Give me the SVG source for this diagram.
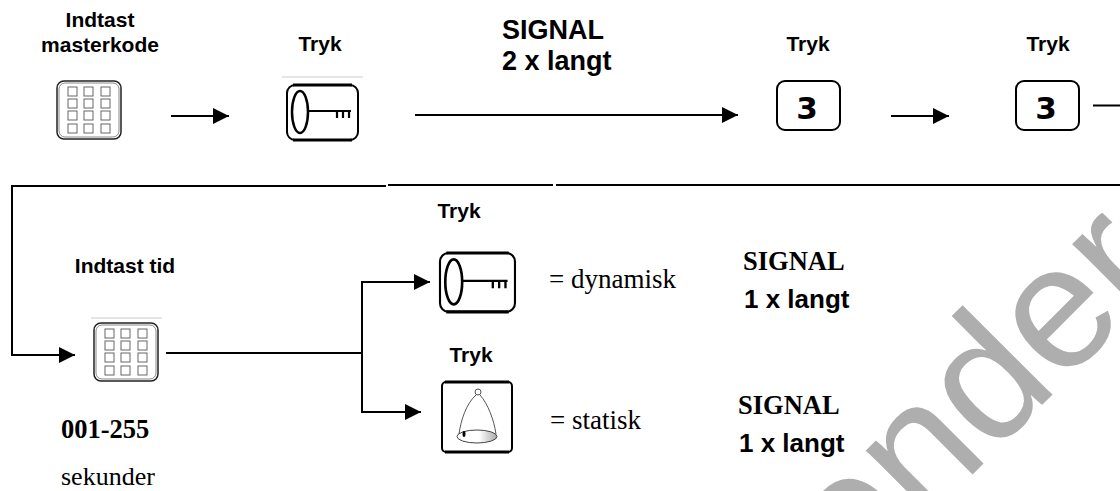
<svg xmlns="http://www.w3.org/2000/svg" width="1120" height="491" viewBox="0 0 1120 491">
<style>
.a{font-family:"Liberation Sans",Arial,sans-serif;font-weight:700;fill:#000}
.s{font-size:21px}.b{font-size:27px}.m{font-size:26px}
.t{font-family:"Liberation Serif","Times New Roman",serif;fill:#000;font-size:26px}
.e{font-size:27px}
.tb{font-weight:700;font-size:26.500px}
.c{fill:none;stroke:#000;stroke-width:2}
.ko{fill:#fff;stroke:#000;stroke-width:2}
.pad{fill:#fff;stroke:#222;stroke-width:1.5}
.in{fill:none;stroke:#888;stroke-width:1}
.sq{fill:#fff;stroke:#666;stroke-width:1}
</style>
<defs>
<marker id="ah" markerUnits="userSpaceOnUse" markerWidth="16" markerHeight="16" refX="16" refY="8" orient="auto"><path d="M0 0L16 8L0 16Z" fill="#000"/></marker>
<linearGradient id="rim" x1="0" x2="1" y1="0" y2="0"><stop offset="0.55" stop-color="#fff"/><stop offset="1" stop-color="#aaa"/></linearGradient>
<g id="keypad">
<rect class="pad" x="0" y="0" width="64" height="58" rx="7"/>
<rect class="in" x="2" y="2" width="60" height="54" rx="6"/>
<g class="sq"><rect x="11" y="6" width="9" height="9"/><rect x="27" y="6" width="9" height="9"/><rect x="44" y="6" width="9" height="9"/><rect x="11" y="18" width="9" height="9"/><rect x="27" y="18" width="9" height="9"/><rect x="44" y="18" width="9" height="9"/><rect x="11" y="30" width="9" height="9"/><rect x="27" y="30" width="9" height="9"/><rect x="44" y="30" width="9" height="9"/><rect x="11" y="43" width="9" height="9"/><rect x="27" y="43" width="9" height="9"/><rect x="44" y="43" width="9" height="9"/></g>
</g>
<g id="keyicon">
<rect class="ko" x="0" y="0" width="71" height="55" rx="8"/>
<path d="M6 0H65M6 55H65" stroke="#000" stroke-width="3"/>
<ellipse cx="13" cy="27" rx="8" ry="21" fill="#fff" stroke="#000" stroke-width="2.500"/>
<path d="M21 26H64M50 26V33M56 26V33M62 26V33" fill="none" stroke="#000" stroke-width="2.200"/>
</g>
<g id="three">
<rect class="ko" x="0" y="0" width="63" height="49" rx="8"/>
<text x="30" y="38" text-anchor="middle" font-family="'DejaVu Sans',sans-serif" font-weight="700" font-size="31" fill="#000">3</text>
</g>
</defs>

<g id="watermark"><text transform="translate(854 593) rotate(-45)" font-family="'Liberation Sans',Arial,sans-serif" font-size="175" fill="#aeaeae">ender</text></g>

<g id="connectors">
<path class="c" d="M171 116H229" marker-end="url(#ah)"/>
<path class="c" d="M415 115H738" marker-end="url(#ah)"/>
<path class="c" d="M891 116H949" marker-end="url(#ah)"/>
<path class="c" d="M1093 105.500H1120"/>
<path class="c" d="M1120 185H556M553 185H388"/>
<path class="c" d="M386 186H12V355H75" marker-end="url(#ah)"/>
<path class="c" d="M166 353H362"/>
<path class="c" d="M362 353V282H430" marker-end="url(#ah)"/>
<path class="c" d="M362 353V412H421" marker-end="url(#ah)"/>
</g>

<g id="n1"><text class="a s" x="100" y="27" text-anchor="middle">Indtast</text><text class="a s" x="100" y="52" text-anchor="middle">masterkode</text><use href="#keypad" x="57" y="81"/></g>
<g id="n2"><text class="a s" x="320" y="51" text-anchor="middle">Tryk</text><path d="M282 77H363" stroke="#ccc"/><use href="#keyicon" x="287" y="85"/></g>
<g id="n3"><text class="a b" x="502" y="39">SIGNAL</text><text class="a b" x="502" y="70">2 x langt</text></g>
<g id="n4"><text class="a s" x="808" y="51" text-anchor="middle">Tryk</text><use href="#three" x="777" y="81"/></g>
<g id="n5"><text class="a s" x="1048" y="51" text-anchor="middle">Tryk</text><use href="#three" x="1016" y="81"/></g>
<g id="n6"><text class="a s" x="125" y="273" text-anchor="middle">Indtast tid</text><path d="M91 318H162" stroke="#ccc"/><use href="#keypad" x="94" y="323"/><text class="t tb" x="61" y="438">001-255</text><text class="t" x="61" y="485">sekunder</text></g>
<g id="n7"><text class="a s" x="459" y="218" text-anchor="middle">Tryk</text><use href="#keyicon" transform="translate(440 253) scale(1.056 1.07)"/><text class="t e" x="549" y="288">= dynamisk</text><text class="t tb" x="743" y="270">SIGNAL</text><text class="a m" x="744" y="308">1 x langt</text></g>
<g id="n8"><text class="a s" x="471" y="362" text-anchor="middle">Tryk</text>
<rect class="ko" x="442" y="382" width="70" height="70" rx="4"/>
<path d="M445 382H509M445 452H509" stroke="#000" stroke-width="3"/>
<circle cx="478" cy="392" r="3" fill="#fff" stroke="#555"/>
<path d="M476 395C466 404 461 420 459 434M480 395C488 404 494 420 496 434" fill="none" stroke="#555"/>
<ellipse cx="477" cy="436.500" rx="20" ry="6.500" fill="url(#rim)" stroke="#444"/>
<ellipse cx="464" cy="434" rx="1.500" ry="3" fill="#000"/>
<text class="t e" x="550" y="429">= statisk</text><text class="t tb" x="738" y="414">SIGNAL</text><text class="a m" x="739" y="452">1 x langt</text></g>
</svg>
